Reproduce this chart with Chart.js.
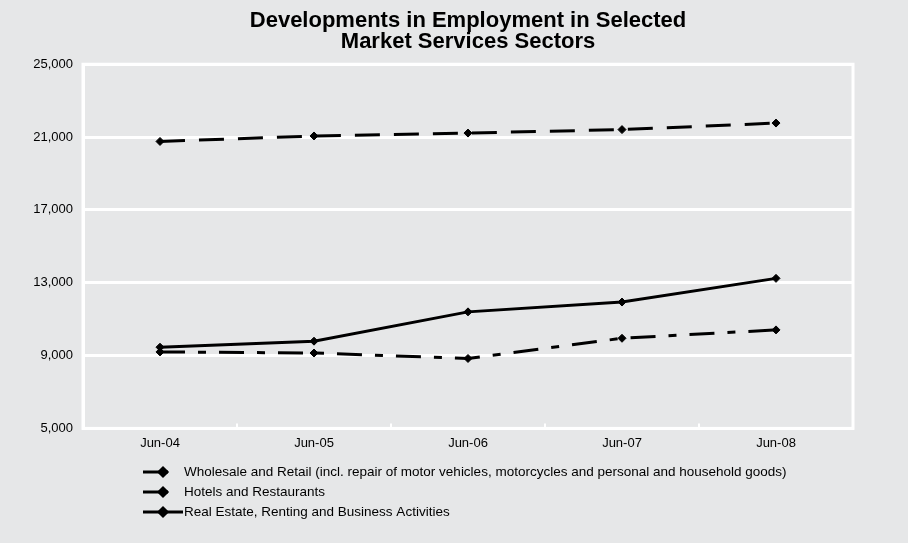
<!DOCTYPE html>
<html>
<head>
<meta charset="utf-8">
<script src="https://cdn.jsdelivr.net/npm/chart.js@4/dist/chart.umd.min.js"></script>
<style>
  html, body { margin: 0; padding: 0; background: #e6e7e8; }
  #wrap { width: 908px; height: 543px; position: relative; }
</style>
</head>
<body>
<div id="wrap"><canvas id="c" width="908" height="543"></canvas></div>
<script>
// Periods (end of June each year)
const periods = ['Jun-04', 'Jun-05', 'Jun-06', 'Jun-07', 'Jun-08'];

// Persons employed by sector
const wholesaleRetail = [20760, 21060, 21220, 21410, 21770];
const hotelsRestaurants = [9200, 9140, 8840, 9950, 10410];
const realEstateBusiness = [9460, 9790, 11400, 11940, 13240];

// Sector names
const sectorNames = [
  'Wholesale and Retail (incl. repair of motor vehicles, motorcycles and personal and household goods)',
  'Hotels and Restaurants',
  'Real Estate, Renting and Business Activities'
];

// Value axis ticks
const yMin = 5000;
const yMax = 25000;
const yStep = 4000;

const FONT = "'Liberation Sans', Arial, sans-serif";

// White frame round the plot area
const plotFrame = {
  id: 'plotFrame',
  beforeDatasetsDraw(chart) {
    const { ctx, chartArea: a } = chart;
    ctx.save();
    ctx.strokeStyle = '#ffffff';
    ctx.lineWidth = 3;
    ctx.strokeRect(a.left, a.top, a.right - a.left, a.bottom - a.top);
    ctx.restore();
  }
};

// Key listed one sector per row under the axis
const sectorKey = {
  id: 'sectorKey',
  afterDraw(chart) {
    const { ctx } = chart;
    const x0 = 143, x1 = 183, textX = 184, firstY = 472, rowGap = 20;
    ctx.save();
    chart.data.datasets.forEach((ds, i) => {
      const y = firstY + i * rowGap;
      const dash = ds.borderDash || [];
      // dashed styles show their leading dash only
      const end = dash.length ? x0 + dash[0] : x1;
      ctx.strokeStyle = ds.borderColor;
      ctx.lineWidth = ds.borderWidth;
      ctx.beginPath();
      ctx.moveTo(x0, y);
      ctx.lineTo(end, y);
      ctx.stroke();
      Chart.helpers.drawPoint(ctx, {
        pointStyle: ds.pointStyle, radius: ds.pointRadius, borderWidth: 1
      }, (x0 + x1) / 2, y);
      ctx.fillStyle = '#000';
      ctx.font = '13.5px ' + FONT;
      ctx.textBaseline = 'middle';
      ctx.textAlign = 'left';
      ctx.fillText(ds.label, textX, y);
    });
    ctx.restore();
  }
};

function lineSet(label, data, dash) {
  return {
    label, data,
    borderColor: '#000',
    backgroundColor: '#000',
    borderWidth: 3,
    borderDash: dash,
    tension: 0,
    pointStyle: 'rectRot',
    pointRadius: 4,
    pointBorderWidth: 1,
    pointBackgroundColor: '#000',
    pointBorderColor: '#000'
  };
}

new Chart(document.getElementById('c'), {
  type: 'line',
  data: {
    labels: periods,
    datasets: [
      lineSet(sectorNames[0], wholesaleRetail, [25, 14]),
      lineSet(sectorNames[1], hotelsRestaurants, [25, 13, 8, 13]),
      lineSet(sectorNames[2], realEstateBusiness, [])
    ]
  },
  options: {
    responsive: false,
    animation: false,
    layout: { padding: { left: 0, right: 55, top: 4, bottom: 80 } },
    plugins: {
      legend: { display: false },
      tooltip: { enabled: false },
      title: {
        display: true,
        fullSize: false,
        text: ['Developments in Employment in Selected', 'Market Services Sectors'],
        color: '#000',
        font: { family: FONT, size: 22, weight: 'bold', lineHeight: 0.96 },
        padding: { top: 6, bottom: 12 }
      }
    },
    scales: {
      x: {
        offset: true,
        grid: {
          offset: true,
          drawOnChartArea: false,
          drawTicks: true,
          tickLength: -5,
          color: '#ffffff',
          lineWidth: 2
        },
        border: { color: '#ffffff', width: 3 },
        ticks: { color: '#000', font: { family: FONT, size: 13 }, padding: 12, maxRotation: 0 }
      },
      y: {
        min: yMin,
        max: yMax,
        afterFit(scale) { scale.width = 83; },
        ticks: { stepSize: yStep, color: '#000', font: { family: FONT, size: 13 }, padding: 10 },
        grid: { color: '#ffffff', lineWidth: 3, drawTicks: false },
        border: { color: '#ffffff', width: 3 }
      }
    }
  },
  plugins: [plotFrame, sectorKey]
});
</script>
</body>
</html>
